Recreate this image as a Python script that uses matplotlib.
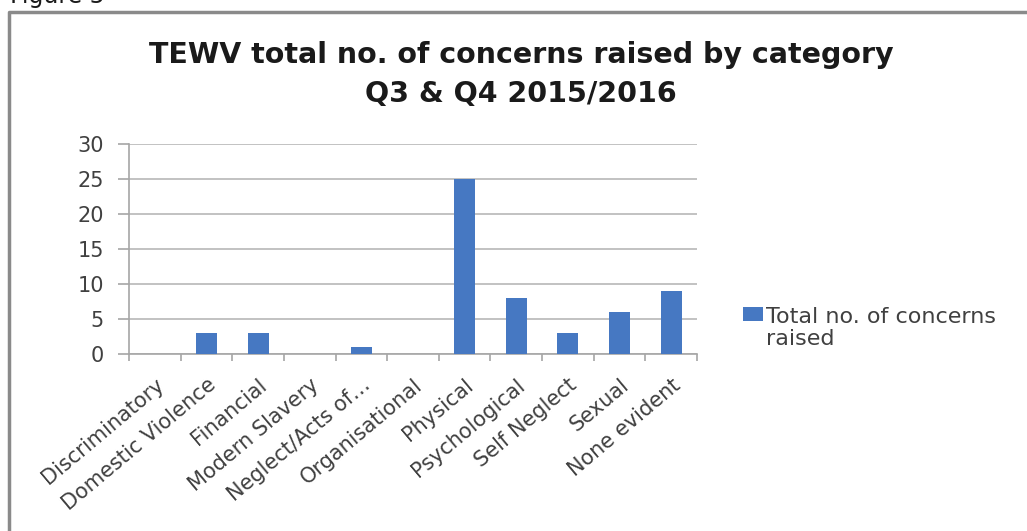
import matplotlib
matplotlib.use("Agg")
import matplotlib.pyplot as plt
from matplotlib.lines import Line2D
import numpy as np

categories = ["Discriminatory", "Domestic Violence", "Financial", "Modern Slavery",
              "Neglect/Acts of\u2026", "Organisational", "Physical", "Psychological",
              "Self Neglect", "Sexual", "None evident"]
values = [0, 3, 3, 0, 1, 0, 25, 8, 3, 6, 9]
series_label = "Total no. of concerns\nraised"
title_line1 = "TEWV total no. of concerns raised by category"
title_line2 = "Q3 & Q4 2015/2016"
yticks = [0, 5, 10, 15, 20, 25, 30]

W, H = 1027, 531
plt.rcParams['font.family'] = ['DejaVu Sans']
fig = plt.figure(figsize=(W / 100, H / 100), dpi=100)
fig.patch.set_facecolor('white')

ax = fig.add_axes([129 / W, 1 - 354 / H, (697 - 129) / W, (354 - 144) / H])
x = np.arange(len(categories))
bars = ax.bar(x, values, width=0.41, color='#4678c2', label=series_label, zorder=3)

ax.set_xlim(-0.5, len(categories) - 0.5)
ax.set_ylim(0, 30)
ax.set_yticks(yticks)
ax.set_yticklabels([str(v) for v in yticks])
ax.yaxis.grid(True, color='#b8b8b8', linewidth=1.2, zorder=0)
ax.set_axisbelow(True)

for s in ['top', 'right']:
    ax.spines[s].set_visible(False)
ax.spines['left'].set_color('#a6a6a6')
ax.spines['bottom'].set_color('#a6a6a6')
ax.spines['left'].set_linewidth(1.2)
ax.spines['bottom'].set_linewidth(1.2)

ax.tick_params(axis='y', direction='out', length=8, width=1.2, color='#a6a6a6',
               labelsize=15, labelcolor='#404040', pad=10)
ax.set_xticks(x)
ax.set_xticklabels(categories, rotation=40, ha='right', rotation_mode='anchor',
                   fontsize=15, color='#404040')
ax.tick_params(axis='x', which='major', length=0, pad=15)
ax.set_xticks(np.arange(-0.5, len(categories), 1.0), minor=True)
ax.tick_params(axis='x', which='minor', direction='out', length=5, width=1.2, color='#a6a6a6')

leg = ax.legend(loc='upper left', bbox_to_anchor=(743 / W, 1 - 307 / H),
                bbox_transform=fig.transFigure, frameon=False, fontsize=16,
                handlelength=0.9, handleheight=0.6, handletextpad=0.15,
                borderpad=0, borderaxespad=0)
for t in leg.get_texts():
    t.set_color('#404040')
    t.set_linespacing(1.15)
# align the colour square with the first line of the label
for col in leg._legend_handle_box.get_children():
    for item in col.get_children():
        item.align = 'top'

fig.text(521 / W, 1 - 63 / H, title_line1, ha='center', va='baseline',
         fontsize=20.5, fontweight='bold', color='#1a1a1a')
fig.text(521 / W, 1 - 102 / H, title_line2, ha='center', va='baseline',
         fontsize=20.5, fontweight='bold', color='#1a1a1a')

fig.text(10 / W, 1 - 3 / H, "Figure 5", ha='left', va='baseline', fontsize=17, color='#1a1a1a')

frame = Line2D([8.5 / W, 8.5 / W, 1.01], [-0.01, 1 - 12 / H, 1 - 12 / H],
               transform=fig.transFigure, color='#8a8a8a', linewidth=2.5)
fig.add_artist(frame)

fig.savefig("out.png", dpi=100, facecolor='white')
